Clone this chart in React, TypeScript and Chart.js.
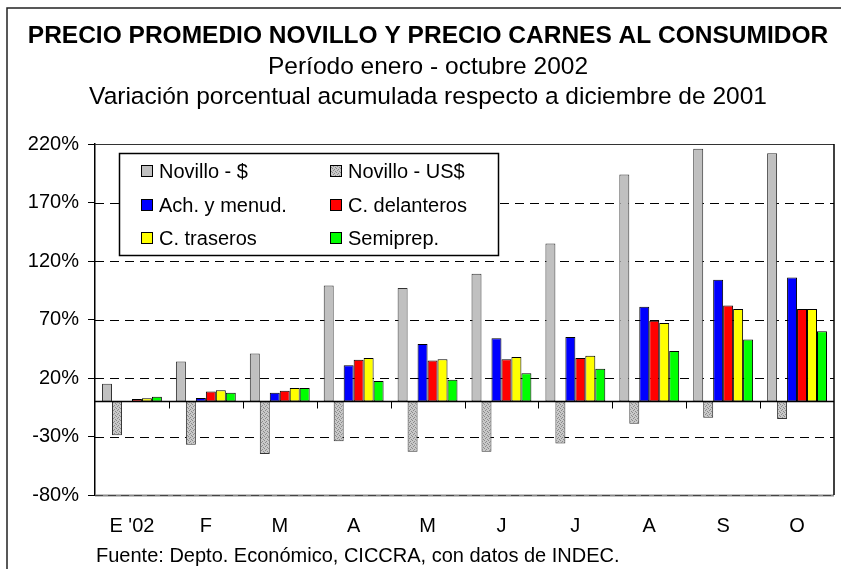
import React, { useEffect, useRef } from 'react';
import { Chart, registerables } from 'chart.js';

Chart.register(...registerables);

const categories = ["E '02", 'F', 'M', 'A', 'M', 'J', 'J', 'A', 'S', 'O'];
const novilloPesos = [15, 34, 41, 99, 97, 109, 135, 194, 216, 212];
const novilloDolares = [-29, -37, -45, -34, -43, -43, -36, -19, -14, -15];
const achuras = [0.4, 3, 7.5, 31, 49, 54, 55, 81, 104, 106];
const delanteros = [2, 8.5, 9, 35.5, 35, 36, 37, 69, 82, 79];
const traseros = [2.7, 9.5, 11.5, 37, 36, 38, 39, 67, 79, 79];
const semiprep = [4, 7.5, 11.5, 17.5, 18.5, 24, 28, 43, 53, 60];
const yTicks = [-80, -30, 20, 70, 120, 170, 220];

const seriesNames = ['Novillo - $', 'Novillo - US$', 'Ach. y menud.', 'C. delanteros', 'C. traseros', 'Semiprep.'];
const titleText = 'PRECIO PROMEDIO NOVILLO Y PRECIO CARNES AL CONSUMIDOR';
const subtitleLines = ['Período enero - octubre 2002', 'Variación porcentual acumulada respecto a diciembre de 2001'];
const sourceText = 'Fuente: Depto. Económico, CICCRA, con datos de INDEC.';

const FAMILY = '"Liberation Sans", Arial, sans-serif';

function makePattern(): CanvasPattern | string {
  const c = document.createElement('canvas');
  c.width = 4;
  c.height = 4;
  const g = c.getContext('2d');
  if (!g) return '#b8b8b8';
  g.fillStyle = '#c8c8c8';
  g.fillRect(0, 0, 4, 4);
  g.fillStyle = '#8a8a8a';
  [[0, 0], [2, 1], [1, 2], [3, 3]].forEach(([px, py]) => g.fillRect(px, py, 1, 1));
  const p = g.createPattern(c, 'repeat');
  return p || '#b8b8b8';
}

const decorPlugin = {
  id: 'decor',
  beforeDatasetsDraw(chart: any) {
    const { ctx, chartArea: a, scales } = chart;
    const y = scales.y;
    ctx.save();
    yTicks.forEach((v) => {
      const py = Math.round(y.getPixelForValue(v)) + 0.5;
      ctx.beginPath();
      if (v === yTicks[yTicks.length - 1]) {
        ctx.setLineDash([]);
        ctx.strokeStyle = '#333';
        ctx.lineWidth = 1.2;
      } else if (v === yTicks[0]) {
        ctx.setLineDash([]);
        ctx.strokeStyle = '#8a8a8a';
        ctx.lineWidth = 2;
      } else {
        ctx.setLineDash([9, 6]);
        ctx.strokeStyle = '#000';
        ctx.lineWidth = 1;
      }
      ctx.moveTo(a.left, py);
      ctx.lineTo(a.right, py);
      ctx.stroke();
      if (v === yTicks[0]) {
        ctx.beginPath();
        ctx.setLineDash([8, 5]);
        ctx.strokeStyle = '#444';
        ctx.lineWidth = 1;
        ctx.moveTo(a.left, py);
        ctx.lineTo(a.right, py);
        ctx.stroke();
      }
    });
    ctx.setLineDash([]);
    ctx.strokeStyle = '#000';
    ctx.lineWidth = 1.5;
    ctx.beginPath();
    ctx.moveTo(a.right, a.top);
    ctx.lineTo(a.right, a.bottom);
    ctx.stroke();
    ctx.restore();
  },
  afterDatasetsDraw(chart: any) {
    const { ctx, chartArea: a, scales } = chart;
    const y = scales.y;
    const x = scales.x;
    ctx.save();
    // zero axis line
    const y0 = Math.round(y.getPixelForValue(0)) + 0.5;
    ctx.strokeStyle = '#000';
    ctx.lineWidth = 1.5;
    ctx.beginPath();
    ctx.moveTo(a.left, y0);
    ctx.lineTo(a.right, y0);
    ctx.stroke();
    // category tick marks
    const n = categories.length;
    const step = (a.right - a.left) / n;
    ctx.lineWidth = 1;
    for (let i = 1; i < n; i++) {
      const px = Math.round(x.getPixelForValue(i) - step / 2) + 0.5;
      ctx.beginPath();
      ctx.moveTo(px, y0);
      ctx.lineTo(px, y0 + 7);
      ctx.stroke();
    }
    // legend box
    const bx = 119, by = 153, bw = 379, bh = 102;
    ctx.fillStyle = '#fff';
    ctx.fillRect(bx, by, bw, bh);
    ctx.strokeStyle = '#000';
    ctx.lineWidth = 1.5;
    ctx.strokeRect(bx + 0.5, by + 0.5, bw, bh);
    const colX = [141, 330];
    const rowY = [171, 205, 238];
    ctx.font = `20px ${FAMILY}`;
    ctx.textBaseline = 'middle';
    ctx.textAlign = 'left';
    chart.data.datasets.forEach((ds: any, i: number) => {
      const cx = colX[i % 2];
      const cy = rowY[Math.floor(i / 2)];
      ctx.fillStyle = ds.backgroundColor;
      ctx.fillRect(cx, cy - 6, 12, 12);
      ctx.strokeStyle = '#000';
      ctx.lineWidth = 1;
      ctx.strokeRect(cx + 0.5, cy - 5.5, 11, 11);
      ctx.fillStyle = '#000';
      ctx.fillText(ds.label, cx + 18, cy + 1);
    });
    ctx.restore();
  },
  afterDraw(chart: any) {
    const { ctx } = chart;
    ctx.save();
    ctx.fillStyle = '#000';
    ctx.textAlign = 'center';
    ctx.textBaseline = 'alphabetic';
    ctx.font = `bold 24.5px ${FAMILY}`;
    ctx.fillText(titleText, 428, 43);
    ctx.font = `24.5px ${FAMILY}`;
    ctx.fillText(subtitleLines[0], 428, 74);
    ctx.fillText(subtitleLines[1], 428, 104);
    ctx.textAlign = 'left';
    ctx.font = `20px ${FAMILY}`;
    ctx.fillText(sourceText, 96, 562);
    // outer frame
    ctx.strokeStyle = '#222';
    ctx.lineWidth = 1.5;
    ctx.beginPath();
    ctx.moveTo(7, 569);
    ctx.lineTo(7, 8);
    ctx.lineTo(841, 8);
    ctx.stroke();
    ctx.restore();
  },
};

export default function App() {
  const ref = useRef<HTMLCanvasElement | null>(null);
  useEffect(() => {
    document.body.style.margin = '0';
    const canvas = ref.current;
    if (!canvas) return;
    const pattern = makePattern();
    const values = [novilloPesos, novilloDolares, achuras, delanteros, traseros, semiprep];
    const fills: any[] = ['#c0c0c0', pattern, '#0000ff', '#ff0000', '#ffff00', '#00ff00'];
    const borders = ['#333', '#333', '#000', '#000', '#000', '#000'];
    const chart = new Chart(canvas, {
      type: 'bar',
      data: {
        labels: categories,
        datasets: values.map((d, i) => ({
          label: seriesNames[i],
          data: d,
          backgroundColor: fills[i],
          borderColor: borders[i],
          borderWidth: 1,
          borderSkipped: false,
          categoryPercentage: 0.81,
          barPercentage: 1,
        })),
      },
      options: {
        responsive: false,
        animation: false,
        layout: { padding: { left: 7, right: 7, top: 144, bottom: 14 } },
        plugins: {
          legend: { display: false },
          title: { display: false },
          tooltip: { enabled: false },
        },
        scales: {
          x: {
            grid: { display: false },
            border: { display: false },
            ticks: { color: '#000', font: { family: FAMILY, size: 20 }, padding: 11, maxRotation: 0, autoSkip: false },
            afterFit: (s: any) => { s.height = 60; },
          },
          y: {
            min: yTicks[0],
            max: yTicks[yTicks.length - 1],
            afterBuildTicks: (s: any) => { s.ticks = yTicks.map((v) => ({ value: v })); },
            afterFit: (s: any) => { s.width = 88; },
            grid: { drawOnChartArea: false, drawTicks: true, tickLength: 7, tickColor: '#000', tickWidth: 1 },
            border: { display: true, color: '#000', width: 1.5 },
            ticks: {
              color: '#000',
              font: { family: FAMILY, size: 20 },
              padding: 9,
              callback: (v: any) => `${v}%`,
            },
          },
        },
      },
      plugins: [decorPlugin],
    });
    return () => chart.destroy();
  }, []);
  return (
    <div style={{ width: 841, height: 569, background: '#fff' }}>
      <canvas ref={ref} width={841} height={569} style={{ display: 'block' }} />
    </div>
  );
}
